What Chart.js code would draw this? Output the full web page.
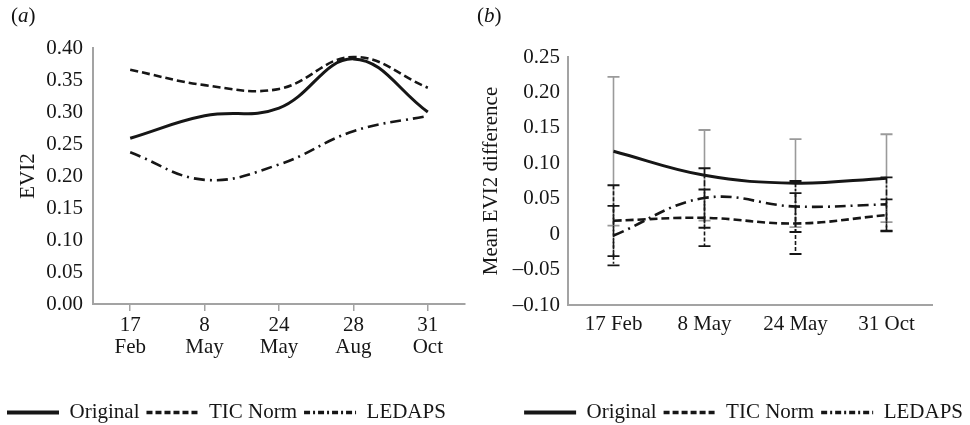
<!DOCTYPE html>
<html>
<head>
<meta charset="utf-8">
<script src="https://cdn.jsdelivr.net/npm/chart.js@4"></script>
<style>
  body { margin: 0; background: #fff; overflow: hidden; height: 425px; }
  .panel { position: absolute; top: 0; height: 433px; }
  #wrapA { left: 0; width: 470px; }
  #wrapB { left: 470px; width: 500px; }
  .tag { position: absolute; top: 3px; font: 21px "Liberation Serif", serif; color: #111; }
</style>
</head>
<body>
<div class="panel" id="wrapA"><canvas id="chartA"></canvas></div>
<div class="panel" id="wrapB"><canvas id="chartB"></canvas></div>
<div class="tag" style="left:11px">(<i>a</i>)</div>
<div class="tag" style="left:477px">(<i>b</i>)</div>
<script>
// panel (a): EVI2 per date
const datesA = [['17', 'Feb'], ['8', 'May'], ['24', 'May'], ['28', 'Aug'], ['31', 'Oct']];
const originalA = [0.259, 0.294, 0.306, 0.383, 0.300];
const ticNormA = [0.366, 0.342, 0.336, 0.386, 0.338];
const ledapsA = [0.237, 0.194, 0.218, 0.270, 0.294];

// panel (b): mean EVI2 difference with error bars
const datesB = ['17 Feb', '8 May', '24 May', '31 Oct'];
const originalB = [0.117, 0.083, 0.072, 0.079];
const ticNormB = [0.019, 0.023, 0.015, 0.027];
const ledapsB = [-0.002, 0.051, 0.039, 0.042];
const originalErr = [0.105, 0.064, 0.062, 0.062];
const ticNormErr = [0.050, 0.040, 0.043, 0.022];
const ledapsErr = [0.042, 0.042, 0.036, 0.038];

const seriesNames = ['Original', 'TIC Norm', 'LEDAPS'];

const ink = '#161616';
const axisGray = '#a3a3a3';
const serif = { family: '"Liberation Serif", "Times New Roman", serif', size: 21 };

// legend samples: thicker, shorter dashes than the plotted lines
const legendDash = [[], [6, 3], [6, 3, 2, 3]];

function lineSet(label, data, dash, width) {
  return {
    label: label,
    data: data,
    borderColor: ink,
    backgroundColor: ink,
    borderWidth: width,
    borderDash: dash,
    tension: 0.4,
    fill: false,
    pointRadius: 0,
    pointHoverRadius: 0,
    pointStyle: 'line'
  };
}

// error bars drawn through the chart's own scales
const errorBars = {
  id: 'errorBars',
  beforeDatasetsDraw(chart) {
    const ctx = chart.ctx;
    const xs = chart.scales.x;
    const ys = chart.scales.y;
    chart.data.datasets.forEach(ds => {
      if (!ds.errBars) return;
      ds.data.forEach((v, j) => {
        const px = xs.getPixelForValue(j);
        const top = ys.getPixelForValue(v + ds.errBars[j]);
        const bot = ys.getPixelForValue(v - ds.errBars[j]);
        ctx.save();
        ctx.strokeStyle = ds.errColor;
        ctx.lineWidth = 1.6;
        ctx.setLineDash(ds.errDash);
        ctx.beginPath();
        ctx.moveTo(px, top);
        ctx.lineTo(px, bot);
        ctx.stroke();
        ctx.setLineDash([]);
        ctx.lineWidth = 1.8;
        ctx.beginPath();
        ctx.moveTo(px - 6, top); ctx.lineTo(px + 6, top);
        ctx.moveTo(px - 6, bot); ctx.lineTo(px + 6, bot);
        ctx.stroke();
        ctx.restore();
      });
    });
  }
};

const legendOpts = (align) => ({
  position: 'bottom',
  align: align,
  labels: {
    usePointStyle: true,
    pointStyleWidth: 52,
    padding: 7,
    color: ink,
    font: serif,
    generateLabels: chart => {
      const items = Chart.defaults.plugins.legend.labels.generateLabels(chart);
      items.forEach((it, i) => {
        it.lineDash = legendDash[i];
        it.lineWidth = i === 0 ? 4 : 3.5;
        it.strokeStyle = ink;
      });
      return items;
    }
  }
});

// chart (a)
new Chart(document.getElementById('chartA'), {
  type: 'line',
  data: {
    labels: datesA,
    datasets: [
      lineSet(seriesNames[0], originalA, [], 3),
      lineSet(seriesNames[1], ticNormA, [8, 4], 2.6),
      lineSet(seriesNames[2], ledapsA, [11, 5, 2, 5], 2.6)
    ]
  },
  options: {
    responsive: true,
    maintainAspectRatio: false,
    animation: false,
    layout: { padding: { top: 48, right: 5, left: 0, bottom: 0 } },
    plugins: { legend: legendOpts('start'), tooltip: { enabled: false } },
    scales: {
      x: {
        offset: true,
        grid: { display: true, drawOnChartArea: false, drawTicks: true, tickLength: 7, offset: false, color: axisGray, lineWidth: 1.5 },
        border: { color: axisGray, width: 2 },
        ticks: { color: ink, font: { ...serif, lineHeight: 1.05 }, padding: 3, maxRotation: 0, autoSkip: false },
        afterFit: s => { s.height = 91; }
      },
      y: {
        min: 0,
        max: 0.4,
        grid: { display: false, drawTicks: false },
        border: { color: axisGray, width: 2 },
        ticks: { stepSize: 0.05, padding: 10, color: ink, font: serif, callback: v => v.toFixed(2) },
        title: { display: true, text: 'EVI2', color: ink, font: serif, padding: { top: 16, bottom: 0 } },
        afterFit: s => { s.width = 93; }
      }
    }
  }
});

// chart (b)
const dsB = [
  lineSet(seriesNames[0], originalB, [], 3),
  lineSet(seriesNames[1], ticNormB, [8, 4], 2.6),
  lineSet(seriesNames[2], ledapsB, [11, 5, 2, 5], 2.6)
];
dsB[0].errBars = originalErr; dsB[0].errColor = '#9a9a9a'; dsB[0].errDash = [];
dsB[1].errBars = ticNormErr; dsB[1].errColor = ink; dsB[1].errDash = [4, 2];
dsB[2].errBars = ledapsErr; dsB[2].errColor = ink; dsB[2].errDash = [6, 2, 2, 2];

new Chart(document.getElementById('chartB'), {
  type: 'line',
  data: { labels: datesB, datasets: dsB },
  options: {
    responsive: true,
    maintainAspectRatio: false,
    animation: false,
    layout: { padding: { top: 57, right: 0, left: 0, bottom: 0 } },
    plugins: { legend: legendOpts('end'), tooltip: { enabled: false } },
    scales: {
      x: {
        offset: true,
        grid: { display: false, drawTicks: false },
        border: { color: axisGray, width: 2 },
        ticks: { color: ink, font: serif, padding: 7, maxRotation: 0, autoSkip: false },
        afterFit: s => { s.height = 90; }
      },
      y: {
        min: -0.1,
        max: 0.25,
        grid: { display: false, drawTicks: false },
        border: { color: axisGray, width: 2 },
        ticks: {
          stepSize: 0.05, padding: 8, color: ink, font: serif,
          callback: v => Math.abs(v) < 1e-9 ? '0' : (v < 0 ? '\u2013' : '') + Math.abs(v).toFixed(2)
        },
        title: { display: true, text: 'Mean EVI2 difference', color: ink, font: serif, padding: { top: 9, bottom: 0 } },
        afterFit: s => { s.width = 98; }
      },
      yR: {
        type: 'linear',
        position: 'right',
        display: true,
        grid: { display: false, drawTicks: false },
        border: { display: false },
        ticks: { display: false },
        afterFit: s => { s.width = 38; }
      }
    }
  },
  plugins: [errorBars]
});
</script>
</body>
</html>
